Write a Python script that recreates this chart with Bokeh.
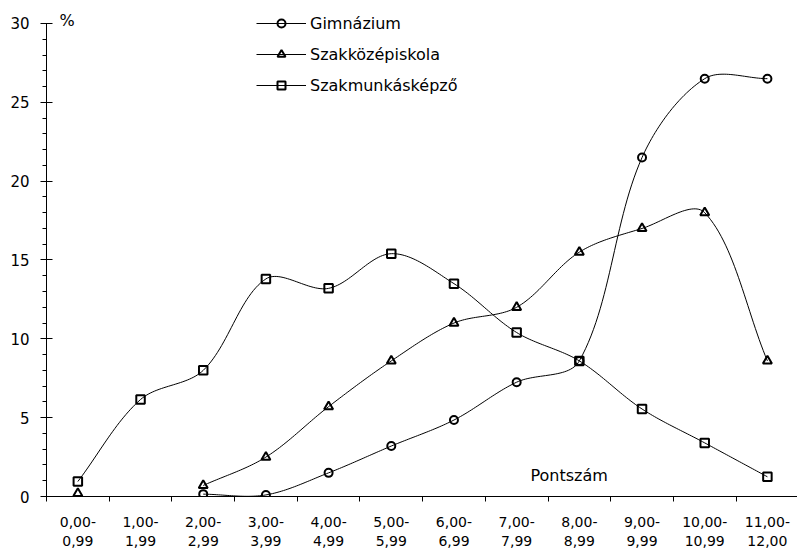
import numpy as np
from bokeh.plotting import figure
from bokeh.models import FixedTicker, Legend, LegendItem, Label, Range1d
from bokeh.embed import file_html
from bokeh.resources import INLINE

categories = ["0,00-\n0,99", "1,00-\n1,99", "2,00-\n2,99", "3,00-\n3,99",
              "4,00-\n4,99", "5,00-\n5,99", "6,00-\n6,99", "7,00-\n7,99",
              "8,00-\n8,99", "9,00-\n9,99", "10,00-\n10,99", "11,00-\n12,00"]
nan = float("nan")
gimnazium = [nan, nan, 0.15, 0.1, 1.5, 3.2, 4.85, 7.25, 8.6, 21.5, 26.5, 26.5]
szakkozep = [0.2, nan, 0.7, 2.5, 5.7, 8.6, 11.0, 12.0, 15.5, 17.0, 18.0, 8.6]
szakmunkas = [0.95, 6.15, 8.0, 13.8, 13.2, 15.4, 13.5, 10.4, 8.6, 5.55, 3.4, 1.25]
series_names = ["Gimnázium", "Szakközépiskola", "Szakmunkásképző"]
y_ticks = [0, 5, 10, 15, 20, 25, 30]

FONT = "DejaVu Sans"
xc = np.arange(len(categories)) + 0.5

# pixel scale of the plot (used only to weight the smoothing like a spreadsheet does)
X_PX, Y_PX = 62.7, 15.8


def smooth(xs, ys, n=30):
    """Spreadsheet-like smoothed line (chord-weighted Bezier) through valid points, gaps kept."""
    xs = np.asarray(xs, float)
    ys = np.asarray(ys, float)
    out_x, out_y = [], []
    valid = ~np.isnan(ys)
    i = 0
    N = len(ys)

    def dist(a, b):
        return np.hypot((a[0] - b[0]) * X_PX, (a[1] - b[1]) * Y_PX)

    while i < N:
        if not valid[i]:
            i += 1
            continue
        j = i
        while j + 1 < N and valid[j + 1]:
            j += 1
        P = np.column_stack([xs[i:j + 1], ys[i:j + 1]])
        m = len(P)
        if m == 1:
            out_x += [P[0, 0], nan]
            out_y += [P[0, 1], nan]
        else:
            t = np.linspace(0, 1, n)
            for k in range(m - 1):
                pa = P[max(k - 1, 0)]
                p0 = P[k]
                p3 = P[k + 1]
                pd = P[min(k + 2, m - 1)]
                d01 = dist(p0, p3)
                da = dist(pa, p0)
                dd = dist(p3, pd)
                w1 = d01 / (da + d01) / 3.0
                w2 = d01 / (d01 + dd) / 3.0
                c1 = p0 + (p3 - pa) * w1
                c2 = p3 - (pd - p0) * w2
                b = (np.outer((1 - t) ** 3, p0) + np.outer(3 * (1 - t) ** 2 * t, c1)
                     + np.outer(3 * (1 - t) * t ** 2, c2) + np.outer(t ** 3, p3))
                out_x += list(b[:, 0])
                out_y += list(b[:, 1])
            out_x.append(nan)
            out_y.append(nan)
        i = j + 1
    return out_x, out_y


p = figure(width=797, height=551, output_backend="svg", toolbar_location=None,
           x_range=Range1d(0, 11.98), y_range=Range1d(0, 30.95),
           min_border_left=46, min_border_right=0, min_border_top=8, min_border_bottom=54)
p.outline_line_color = None
p.xgrid.grid_line_color = None
p.ygrid.grid_line_color = None
p.background_fill_color = "white"
p.border_fill_color = "white"

# y axis
p.yaxis.ticker = FixedTicker(ticks=y_ticks, minor_ticks=list(range(0, 31)))
p.yaxis.bounds = (0, 30)
p.yaxis.major_tick_in = 6
p.yaxis.major_tick_out = 6
p.yaxis.minor_tick_in = 0
p.yaxis.minor_tick_out = 4
p.yaxis.axis_line_color = "black"
p.yaxis.major_tick_line_color = "black"
p.yaxis.minor_tick_line_color = "black"
p.yaxis.major_label_text_font = FONT
p.yaxis.major_label_text_font_size = "15px"
p.yaxis.major_label_text_color = "black"
p.yaxis.major_label_standoff = 11

# x axis: ticks at category boundaries, labels at centres
p.xaxis.ticker = FixedTicker(ticks=list(xc), minor_ticks=list(range(0, len(categories) + 1)))
p.xaxis.major_label_overrides = {float(c): lab for c, lab in zip(xc, categories)}
p.xaxis.major_tick_in = 0
p.xaxis.major_tick_out = 0
p.xaxis.minor_tick_in = 0
p.xaxis.minor_tick_out = 5
p.xaxis.axis_line_color = "black"
p.xaxis.minor_tick_line_color = "black"
p.xaxis.major_label_text_font = FONT
p.xaxis.major_label_text_font_size = "14px"
p.xaxis.major_label_text_color = "black"
p.xaxis.major_label_standoff = 12

markers = ["circle", "triangle", "square"]
sizes = [8, 9, 8.5]
items = []
for name, vals, mk, sz in zip(series_names, [gimnazium, szakkozep, szakmunkas], markers, sizes):
    sx, sy = smooth(xc, vals)
    lr = p.line(sx, sy, line_color="black", line_width=1)
    sr = p.scatter(xc, vals, marker=mk, size=sz, line_color="black", line_width=2,
                   fill_color=None)
    items.append(LegendItem(label=name, renderers=[lr, sr]))

legend = Legend(items=items, location=(210, 401), orientation="vertical",
                border_line_color=None, background_fill_alpha=0,
                padding=0, margin=0, glyph_width=50, glyph_height=20,
                label_height=20, spacing=11, label_standoff=4,
                label_text_font=FONT, label_text_font_size="16px",
                label_text_color="black")
p.add_layout(legend, "center")

p.add_layout(Label(x=13, y=467, x_units="screen", y_units="screen", text="%",
                   text_font=FONT, text_font_size="16px", text_color="black"))
p.add_layout(Label(x=484, y=12, x_units="screen", y_units="screen", text="Pontszám",
                   text_font=FONT, text_font_size="16px", text_color="black"))

open("out.html", "w").write(file_html(p, INLINE))
